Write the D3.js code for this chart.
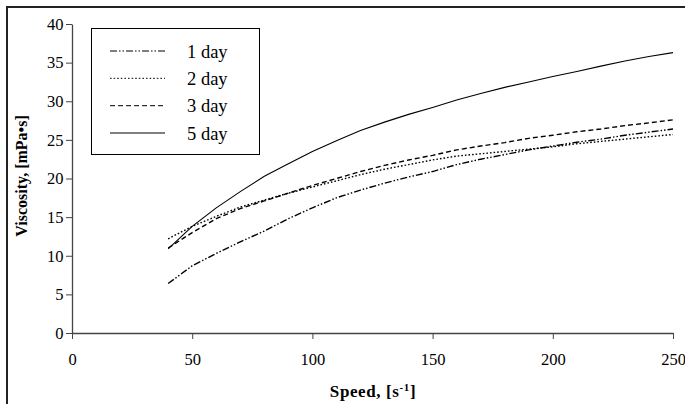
<!DOCTYPE html>
<html>
<head>
<meta charset="utf-8">
<script src="https://cdn.jsdelivr.net/npm/d3@7"></script>
<style>
  html, body { margin: 0; padding: 0; background: #fff; }
  svg { display: block; }
  text { font-family: "Liberation Serif", "Times New Roman", serif; fill: #000; }
</style>
</head>
<body>
<svg id="chart" width="685" height="404"></svg>
<script>
// ---- data ----
const speeds = [40, 50, 60, 70, 80, 90, 100, 110, 120, 130, 140, 150, 160, 170, 180, 190, 200, 210, 220, 230, 240, 250];
const day1 = [6.4, 8.7, 10.3, 11.8, 13.2, 14.8, 16.2, 17.5, 18.5, 19.4, 20.2, 20.9, 21.8, 22.5, 23.1, 23.7, 24.2, 24.7, 25.1, 25.6, 26.0, 26.4];
const day2 = [12.2, 13.8, 15.1, 16.3, 17.2, 18.1, 18.9, 19.7, 20.5, 21.2, 21.8, 22.4, 22.9, 23.2, 23.5, 23.8, 24.1, 24.5, 24.8, 25.1, 25.4, 25.7];
const day3 = [11.0, 13.0, 14.8, 16.1, 17.1, 18.1, 19.1, 20.0, 20.9, 21.7, 22.4, 23.0, 23.7, 24.2, 24.65, 25.2, 25.6, 26.05, 26.4, 26.85, 27.2, 27.6];
const day5 = [10.9, 13.8, 16.2, 18.3, 20.3, 21.9, 23.5, 24.9, 26.2, 27.3, 28.3, 29.2, 30.15, 31.0, 31.8, 32.5, 33.2, 33.85, 34.55, 35.2, 35.8, 36.3];
const seriesNames = ["1 day", "2 day", "3 day", "5 day"];
const xTicks = [0, 50, 100, 150, 200, 250];
const yTicks = [0, 5, 10, 15, 20, 25, 30, 35, 40];

const seriesValues = [day1, day2, day3, day5];
const dashes = ["7,2,1.5,2,1.5,2", "1.6,2", "5,3", null];

const svg = d3.select("#chart");

// outer frame (extends beyond the picture on the right and bottom)
svg.append("rect")
  .attr("x", 7).attr("y", 7).attr("width", 720).attr("height", 440)
  .attr("fill", "none").attr("stroke", "#222").attr("stroke-width", 2);

const x = d3.scaleLinear().domain([0, 250]).range([72, 673]);
const y = d3.scaleLinear().domain([0, 40]).range([333, 24]);

const axisColor = "#444";

const gx = svg.append("g").attr("transform", "translate(0,333)")
  .call(d3.axisBottom(x).tickValues(xTicks).tickSize(6).tickSizeOuter(0).tickPadding(14));
const gy = svg.append("g").attr("transform", "translate(72,0)")
  .call(d3.axisLeft(y).tickValues(yTicks).tickSize(6).tickSizeOuter(0).tickPadding(2.5));

[gx, gy].forEach(g => {
  g.attr("font-family", null);
  g.select(".domain").attr("stroke", axisColor).attr("stroke-width", 1.3);
  g.selectAll(".tick line").attr("stroke", axisColor).attr("stroke-width", 1);
  g.selectAll(".tick text")
    .style("font-family", "'Liberation Serif', 'Times New Roman', serif")
    .attr("font-size", 16.5).attr("fill", "#000");
});

// series lines
const line = d3.line()
  .x((d, i) => x(speeds[i]))
  .y(d => y(d));

seriesValues.forEach((vals, k) => {
  const p = svg.append("path")
    .datum(vals)
    .attr("d", line)
    .attr("fill", "none")
    .attr("stroke", "#000")
    .attr("stroke-width", k === 3 ? 1.1 : 1.4);
  if (dashes[k]) p.attr("stroke-dasharray", dashes[k]);
});

// legend
const lg = svg.append("g");
lg.append("rect")
  .attr("x", 91.5).attr("y", 28.5).attr("width", 168).attr("height", 126)
  .attr("fill", "#fff").attr("stroke", "#000").attr("stroke-width", 1);
const rowY = [51, 78.3, 105.7, 133];
seriesNames.forEach((name, k) => {
  const l = lg.append("line")
    .attr("x1", 110).attr("x2", 165)
    .attr("y1", rowY[k]).attr("y2", rowY[k])
    .attr("stroke", "#000").attr("stroke-width", k === 3 ? 1.2 : 1);
  if (dashes[k]) l.attr("stroke-dasharray", dashes[k]);
  lg.append("text")
    .attr("x", 187).attr("y", rowY[k] + 6.5)
    .attr("font-size", 18.5)
    .text(name);
});

// axis titles
const xt = svg.append("text")
  .attr("x", 373).attr("y", 397)
  .attr("text-anchor", "middle")
  .attr("font-weight", "bold").attr("font-size", 17)
  .attr("letter-spacing", 0.6);
xt.append("tspan").text("Speed, [s");
xt.append("tspan").attr("dy", -6).attr("font-size", 11).text("-1");
xt.append("tspan").attr("dy", 6).text("]");

svg.append("text")
  .attr("transform", "translate(27,176) rotate(-90)")
  .attr("text-anchor", "middle")
  .attr("font-weight", "bold").attr("font-size", 16)
  .text("Viscosity, [mPa•s]");
</script>
</body>
</html>
